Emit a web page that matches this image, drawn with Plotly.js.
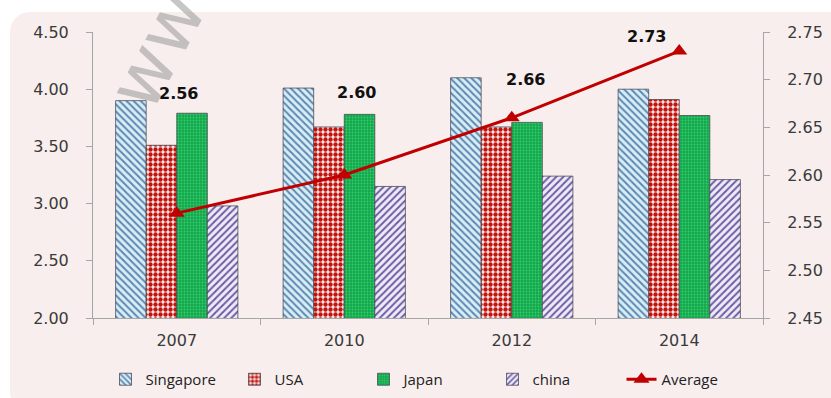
<!DOCTYPE html>
<html>
<head>
<meta charset="utf-8">
<script src="https://cdn.plot.ly/plotly-3.0.1.min.js"></script>
<style>
  html, body { margin: 0; padding: 0; background: #ffffff; }
  #frame {
    position: absolute; left: 10px; top: 12px; width: 840px; height: 400px;
    background: #f8eeee; border-radius: 20px;
  }
  #chart { position: absolute; left: 0; top: 0; width: 831px; height: 398px; }
</style>
</head>
<body>
<div id="frame"></div>
<div id="chart"></div>
<script>
// Survey years and per-country scores (left axis), plus the yearly average (right axis)
const years = ['2007', '2010', '2012', '2014'];
const singapore = [3.90, 4.01, 4.10, 4.00];
const usa = [3.51, 3.67, 3.67, 3.91];
const japan = [3.79, 3.78, 3.71, 3.77];
const china = [2.98, 3.15, 3.24, 3.21];
const average = [2.56, 2.60, 2.66, 2.73];

// Offsets of the average labels relative to their points (pixels)
const labelShiftX = [2, 12, 14, -33];
const labelShiftY = [120, 83, 38, 15];

const outline = { color: 'rgba(70,70,80,0.75)', width: 1 };

function barTrace(name, values, pattern) {
  return {
    type: 'bar', name: name, x: years, y: values, yaxis: 'y',
    marker: { color: pattern.bg, line: Object.assign({}, outline), pattern: pattern.p },
    hoverinfo: 'x+y'
  };
}

const traces = [
  barTrace('Singapore', singapore, {
    bg: '#d8eef5',
    p: { shape: '\\', fgcolor: '#5d87b3', bgcolor: '#d8eef5', size: 5, solidity: 0.4 }
  }),
  barTrace('USA', usa, {
    bg: '#f6eeee',
    p: { shape: '.', fgcolor: '#c4120c', bgcolor: '#f6eeee', size: 5, solidity: 0.6 }
  }),
  barTrace('Japan', japan, {
    bg: '#17a64c',
    p: { shape: '.', fgcolor: '#2fd06e', bgcolor: '#17a64c', size: 3, solidity: 0.3 }
  }),
  barTrace('china', china, {
    bg: '#eeebf5',
    p: { shape: '/', fgcolor: '#6a5aa6', bgcolor: '#eeebf5', size: 5, solidity: 0.38 }
  }),
  {
    type: 'scatter', mode: 'lines+markers', name: 'Average',
    x: years, y: average, yaxis: 'y2',
    line: { color: '#c00000', width: 3 },
    marker: { symbol: 'triangle-up', size: 14, color: '#c00000' }
  }
];

const tickFont = { family: 'DejaVu Sans, Verdana, sans-serif', size: 16, color: '#3a3a3a' };

// Category positions are given by index so the year labels are not read as numbers
const annotations = average.map((v, i) => ({
  xref: 'x', yref: 'y2', x: i, y: v,
  text: v.toFixed(2), showarrow: false,
  xshift: labelShiftX[i], yshift: labelShiftY[i],
  font: { family: 'DejaVu Sans, Verdana, sans-serif', size: 16, color: '#111111', weight: 'bold' }
}));

annotations.push({
  xref: 'paper', yref: 'paper', x: 0.095, y: 0.94,
  xanchor: 'center', yanchor: 'middle',
  text: 'ww', showarrow: false, textangle: -62,
  font: { family: 'DejaVu Sans, sans-serif', size: 74, color: 'rgba(160,160,160,0.6)' }
});

const layout = {
  width: 831, height: 398,
  margin: { l: 93, r: 68, t: 32, b: 80, autoexpand: false },
  paper_bgcolor: 'rgba(0,0,0,0)',
  plot_bgcolor: 'rgba(0,0,0,0)',
  barmode: 'group', bargap: 0.27, bargroupgap: 0,
  showlegend: true,
  legend: {
    orientation: 'h', x: 0.5, xanchor: 'center', y: -0.215, yanchor: 'middle',
    font: { family: 'Open Sans, Liberation Sans, sans-serif', size: 15, color: '#222222' },
    entrywidth: 84, entrywidthmode: 'pixels', traceorder: 'normal'
  },
  xaxis: {
    type: 'category', range: [-0.5, 3.5], autorange: false,
    showline: true, linecolor: '#a6a6a6', linewidth: 1,
    ticks: 'outside', tickson: 'boundaries', ticklen: 6, tickcolor: '#a6a6a6',
    tickfont: tickFont, showgrid: false, ticklabelstandoff: 8
  },
  yaxis: {
    range: [2.0, 4.5], dtick: 0.5, tickformat: '.2f',
    showline: true, linecolor: '#a6a6a6', linewidth: 1,
    ticks: 'outside', ticklen: 6, tickcolor: '#a6a6a6',
    showgrid: false, zeroline: false, tickfont: tickFont, ticklabelstandoff: 14
  },
  yaxis2: {
    range: [2.45, 2.75], dtick: 0.05, tickformat: '.2f',
    overlaying: 'y', side: 'right',
    showline: true, linecolor: '#a6a6a6', linewidth: 1,
    ticks: 'outside', ticklen: 6, tickcolor: '#a6a6a6',
    showgrid: false, zeroline: false, tickfont: tickFont, ticklabelstandoff: 14
  },
  annotations: annotations
};

Plotly.newPlot('chart', traces, layout, { displayModeBar: false, staticPlot: true });
</script>
</body>
</html>
